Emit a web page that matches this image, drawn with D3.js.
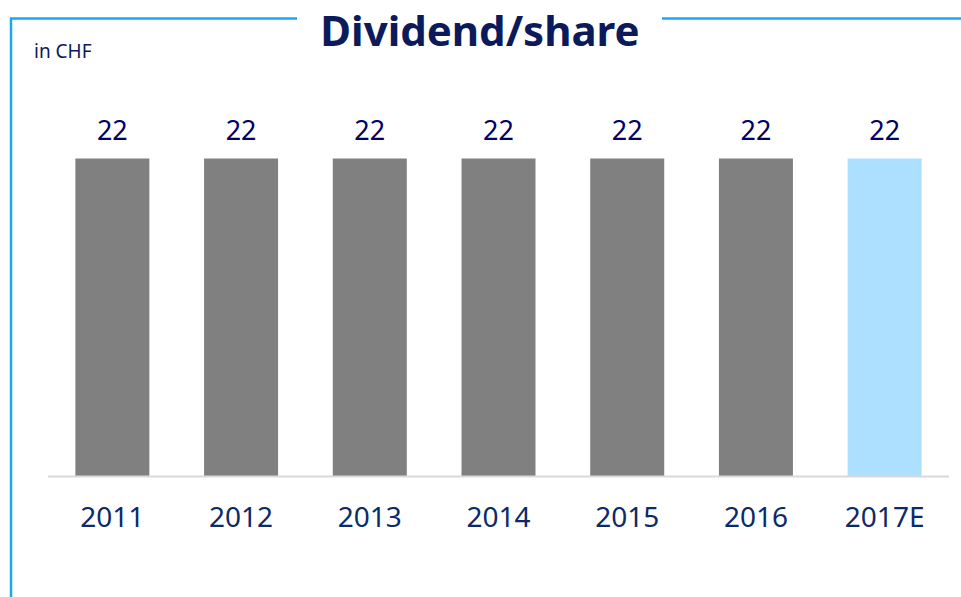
<!DOCTYPE html>
<html>
<head>
<meta charset="utf-8">
<script src="https://cdn.jsdelivr.net/npm/d3@7"></script>
<style>
  body { margin: 0; background: #fff; }
  svg { display: block; font-family: "Noto Sans", "Open Sans", sans-serif; }
</style>
</head>
<body>
<svg id="chart" width="961" height="597"></svg>
<script>
// data
var years = ["2011", "2012", "2013", "2014", "2015", "2016", "2017E"];
var dividends = [22, 22, 22, 22, 22, 22, 22];
var estimated = [false, false, false, false, false, false, true];

var svg = d3.select("#chart");
var W = 961, H = 597;
var frameBlue = "#1aa7f5";

// frame lines around the title
svg.append("line").attr("x1", 11).attr("x2", 11).attr("y1", 18).attr("y2", H)
    .style("stroke", frameBlue).style("stroke-width", 2.5);
svg.append("line").attr("x1", 10).attr("x2", 297).attr("y1", 18.5).attr("y2", 18.5)
    .style("stroke", frameBlue).style("stroke-width", 2.5);
svg.append("line").attr("x1", 662).attr("x2", W).attr("y1", 18.5).attr("y2", 18.5)
    .style("stroke", frameBlue).style("stroke-width", 2.5);

svg.append("text")
    .attr("x", 480).attr("y", 46)
    .attr("text-anchor", "middle")
    .style("font-size", "42px").style("font-weight", "bold")
    .style("fill", "#0b1a5a")
    .text("Dividend/share");

svg.append("text")
    .attr("x", 34).attr("y", 58)
    .style("font-size", "19px").style("fill", "#0b1a5a")
    .text("in CHF");

var x = d3.scaleBand().domain(years).range([48, 949]).paddingInner(0.425).paddingOuter(0.2125);
var y = d3.scaleLinear().domain([0, d3.max(dividends)]).range([476, 158.5]);

var data = years.map(function (d, i) { return { year: d, value: dividends[i], est: estimated[i] }; });

svg.selectAll("rect.bar").data(data).enter().append("rect")
    .attr("class", "bar")
    .attr("x", function (d) { return x(d.year); })
    .attr("width", x.bandwidth())
    .attr("y", function (d) { return y(d.value); })
    .attr("height", function (d) { return y(0) - y(d.value); })
    .style("fill", function (d) { return d.est ? "#addfff" : "#808080"; });

svg.selectAll("text.val").data(data).enter().append("text")
    .attr("class", "val")
    .attr("x", function (d) { return x(d.year) + x.bandwidth() / 2; })
    .attr("y", function (d) { return y(d.value) - 19; })
    .attr("text-anchor", "middle")
    .style("font-size", "27px").style("fill", "#000066")
    .text(function (d) { return d.value; });

// baseline + year labels
var axis = svg.append("g").attr("transform", "translate(0,476)")
    .call(d3.axisBottom(x).tickSize(0).tickPadding(0));
axis.select(".domain").attr("d", "M48,0.5H949").style("stroke", "#d9d9d9").style("stroke-width", 2);
axis.selectAll(".tick text")
    .attr("y", 51).attr("dy", null)
    .style("font-size", "28px").style("fill", "#0b2a6a")
    .style("font-family", "\"Noto Sans\", \"Open Sans\", sans-serif");
</script>
</body>
</html>
